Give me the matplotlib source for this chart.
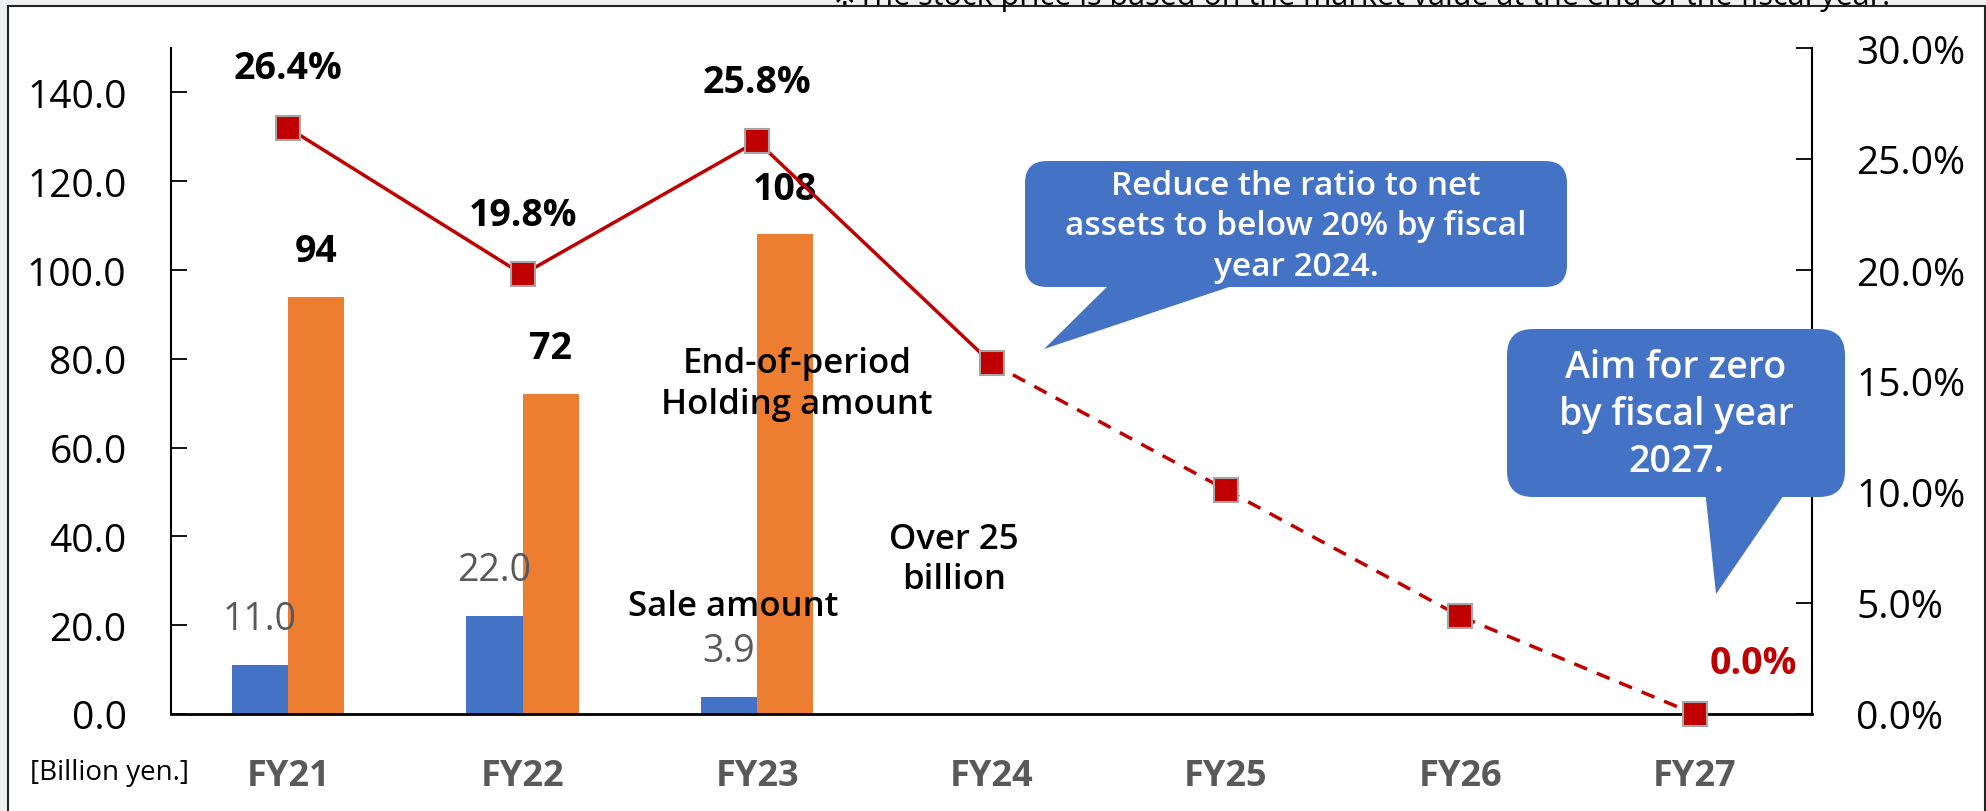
import matplotlib
matplotlib.use("Agg")
import matplotlib.pyplot as plt
import matplotlib.transforms as mtransforms
from matplotlib.patches import FancyBboxPatch, Polygon, Rectangle
import numpy as np

plt.rcParams['font.family'] = ['Open Sans', 'DejaVu Sans']

# ---- data ----
categories = ["FY21", "FY22", "FY23", "FY24", "FY25", "FY26", "FY27"]
sale_amount = [11.0, 22.0, 3.9]
holding_amount = [94, 72, 108]
ratio_actual = [26.4, 19.8, 25.8, 15.8]          # FY21-FY24 (solid)
ratio_plan = [15.8, 10.1, 4.4, 0.0]              # FY24-FY27 (dashed)
ratio_labels = {0: "26.4%", 1: "19.8%", 2: "25.8%"}
left_ticks = [0, 20, 40, 60, 80, 100, 120, 140]
right_ticks = [0, 5, 10, 15, 20, 25, 30]
note_text = "※The stock price is based on the market value at the end of the fiscal year."
callout1 = "Reduce the ratio to net\nassets to below 20% by fiscal\nyear 2024."
callout2 = "Aim for zero\nby fiscal year\n2027."

BLUE = "#4472C4"
ORANGE = "#ED7D31"
RED = "#C00000"
GRAY_TXT = "#595959"

W, H, DPI = 1986, 812, 100
fig = plt.figure(figsize=(W / DPI, H / DPI), dpi=DPI)
fig.patch.set_facecolor("#EEF0F1")

# pixel transform (origin top-left)
pxT = mtransforms.Affine2D().scale(1, -1).translate(0, H).scale(1 / DPI) + fig.dpi_scale_trans

# white frame
frame = Rectangle((8, 7), 1977, 820, transform=pxT, facecolor="white",
                  edgecolor="#222222", lw=1.5, zorder=0)
fig.patches.append(frame)

ax = fig.add_axes([171 / W, 1 - 715 / H, (1812 - 171) / W, (715 - 49) / H])
ax2 = ax.twinx()
ax.set_zorder(1)
ax2.set_zorder(2)
ax.patch.set_visible(False)
ax2.patch.set_visible(False)

x = np.arange(len(categories))
bw = 0.24
xs = x[:len(sale_amount)]
b1 = ax.bar(xs - bw / 2, sale_amount, width=bw, color=BLUE, zorder=2)
b2 = ax.bar(xs + bw / 2, holding_amount, width=bw, color=ORANGE, zorder=2)

for xi, v in zip(xs, sale_amount):
    ax.annotate(f"{v:.1f}", (xi - bw / 2, v), xytext=(0, 33), textcoords="offset points",
                ha="center", va="center", fontsize=27, color=GRAY_TXT)
for xi, v in zip(xs, holding_amount):
    ax.annotate(f"{v}", (xi + bw / 2, v), xytext=(0, 33), textcoords="offset points",
                ha="center", va="center", fontsize=27, fontweight="bold", color="black")

ax.set_xlim(-0.5, len(categories) - 0.5)
ax.set_ylim(0, 150)
ax.set_yticks(left_ticks)
ax.set_yticklabels([f"{t:.1f}" for t in left_ticks], fontsize=28)
ax.set_xticks(x)
ax.set_xticklabels(categories, fontsize=26, fontweight="bold", color=GRAY_TXT)
ax.tick_params(axis="x", length=0, pad=32)
ax.tick_params(axis="y", direction="in", length=11.5, width=1.3, pad=32)

ax2.set_ylim(0, 30)
ax2.set_yticks(right_ticks)
ax2.set_yticklabels([f"{t:.1f}%" for t in right_ticks], fontsize=28)
ax2.tick_params(axis="y", direction="in", length=11.5, width=1.3, pad=32)

for a in (ax, ax2):
    a.spines["top"].set_visible(False)
ax.spines["right"].set_visible(False)
ax.spines["left"].set_linewidth(1.5)
ax.spines["bottom"].set_linewidth(2)
ax2.spines["left"].set_visible(False)
ax2.spines["bottom"].set_visible(False)
ax2.spines["right"].set_linewidth(1.5)

n_act = len(ratio_actual)
ax2.plot(x[:n_act], ratio_actual, color=RED, lw=2.5, zorder=3)
ax2.plot(x[n_act - 1:n_act - 1 + len(ratio_plan)], ratio_plan, color=RED, lw=2.5,
         ls=(0, (4, 3)), zorder=3)
all_ratio = ratio_actual + ratio_plan[1:]
ax2.plot(x, all_ratio, ls="none", marker="s", markersize=17, markerfacecolor=RED,
         markeredgecolor="#A6A6A6", markeredgewidth=1.5, zorder=4, clip_on=False)
for i, lab in ratio_labels.items():
    ax2.annotate(lab, (x[i], all_ratio[i]), xytext=(0, 43), textcoords="offset points",
                 ha="center", va="center", fontsize=27, fontweight="bold", color="black")
ax2.annotate(f"{all_ratio[-1]:.1f}%", (x[-1], all_ratio[-1]), xytext=(42, 37),
             textcoords="offset points", ha="center", va="center", fontsize=27,
             fontweight="bold", color=RED)

# explanatory texts
ax.text(2.17, 74.4, "End-of-period\nHolding amount", ha="center", va="center",
        fontsize=25, fontweight="semibold", linespacing=1.25, zorder=5)
ax.text(1.90, 24.3, "Sale amount", ha="center", va="center", fontsize=25,
        fontweight="semibold", zorder=5)
ax.text(2.84, 34.9, "Over 25\nbillion", ha="center", va="center", fontsize=25,
        fontweight="semibold", linespacing=1.25, zorder=5)

# callouts
def callout(x0, y0, x1, y1, r, tail, text, fs, ty):
    box = FancyBboxPatch((x0 + r, y0 + r), (x1 - x0) - 2 * r, (y1 - y0) - 2 * r,
                         boxstyle=f"round,pad={r}", transform=pxT, facecolor=BLUE,
                         edgecolor="none", zorder=10)
    fig.patches.append(box)
    poly = Polygon(tail, closed=True, transform=pxT, facecolor=BLUE, edgecolor="none",
                   zorder=10)
    fig.patches.append(poly)
    fig.text((x0 + x1) / 2, ty, text, transform=pxT, ha="center", va="center",
             fontsize=fs, color="white", fontweight="semibold", linespacing=1.3, zorder=11)

callout(1025, 162, 1567, 288, 22, [(1115, 280), (1253, 280), (1044, 350)],
        callout1, 24, 227)
callout(1507, 330, 1845, 498, 26, [(1705, 490), (1788, 490), (1716, 595)],
        callout2, 27, 415)

fig.text(110, 773, "[Billion yen.]", transform=pxT, ha="center", va="center",
         fontsize=20, color="black")
fig.text(1361, 5, note_text, transform=pxT, ha="center", va="baseline",
         fontsize=22, color="black", zorder=12)

fig.savefig("out.png", dpi=DPI, facecolor=fig.get_facecolor())
